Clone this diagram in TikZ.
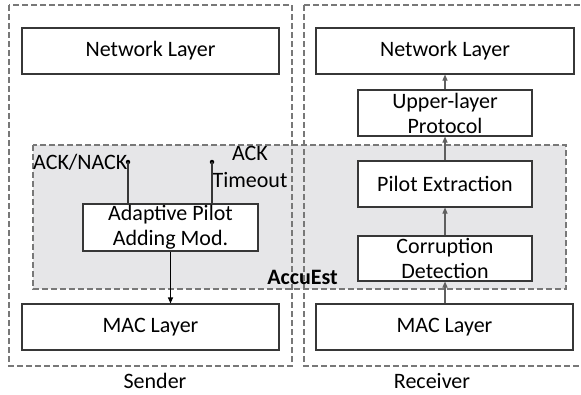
\documentclass[tikz,border=0pt]{standalone}
\usepackage{fontspec}
\setmainfont{Carlito}
\usetikzlibrary{arrows.meta}
\definecolor{dashgray}{RGB}{120,120,120}
\definecolor{accufill}{RGB}{230,230,232}
\definecolor{boxline}{RGB}{55,55,55}
\definecolor{arrgray}{RGB}{95,95,95}
\begin{document}
\begin{tikzpicture}[x=1pt,y=-1pt,
  txt/.style={font=\fontsize{22}{25}\selectfont},
  layerbox/.style={draw=boxline, line width=1.1pt, fill=white, txt, align=center, inner sep=0pt},
  group/.style={draw=dashgray, dash pattern=on 6pt off 3pt, line width=1.1pt},
  arr/.style={-{Triangle[length=6pt,width=5pt]}, line width=1.1pt},
  dotc/.style={circle, fill=black, inner sep=0pt, minimum size=4.5pt}
]
\useasboundingbox (0,0) rectangle (581,394);
% AccuEst region
\fill[accufill] (33,145) rectangle (566,289);
\draw[group] (33,145) rectangle (566,289);
% Sender / Receiver groups
\draw[group] (9,5) rectangle (292,366);
\draw[group] (304,5) -- (580,5);
\draw[group] (304,5) -- (304,366) -- (580,366);
\node[font=\fontsize{22}{25}\bfseries\selectfont, anchor=east, inner sep=0pt] (accu) at (338,277) {AccuEst};
% sender nodes
\node[layerbox, minimum width=257pt, minimum height=46pt] (netS) at (150.5,51) {Network Layer};
\node[layerbox, minimum width=257pt, minimum height=46pt] (macS) at (150.5,327) {MAC Layer};
\node[layerbox, minimum width=175pt, minimum height=47pt] (apa) at (170.5,227.5) {Adaptive Pilot\\Adding Mod.};
\node[txt, inner sep=0pt, anchor=west] (acknack) at (33,162) {ACK/NACK};
\node[txt, inner sep=0pt, align=center, font=\fontsize{22}{27}\selectfont] (ackto) at (250,166.5) {ACK\\Timeout};
\node[dotc] (d1) at (128,162) {};
\node[dotc] (d2) at (212,162) {};
\draw[boxline, line width=1.1pt] (d1.center) -- (d1.center |- apa.north);
\draw[boxline, line width=1.1pt] (d2.center) -- (d2.center |- apa.north);
\draw[arr, black] (apa.south) -- (apa.south |- macS.north);
% receiver nodes
\node[layerbox, minimum width=258pt, minimum height=46pt] (netR) at (445,51) {Network Layer};
\node[layerbox, minimum width=174pt, minimum height=46pt] (upl) at (445,113) {Upper-layer\\Protocol};
\node[layerbox, minimum width=174pt, minimum height=46pt] (pe) at (445,184) {Pilot Extraction};
\node[layerbox, minimum width=174pt, minimum height=45pt] (cd) at (445,258.5) {Corruption\\Detection};
\node[layerbox, minimum width=257pt, minimum height=46pt] (macR) at (444.5,327) {MAC Layer};
\draw[arr, arrgray] (macR.north -| cd.south) -- (cd.south);
\draw[arr, arrgray] (cd.north) -- (pe.south);
\draw[arr, arrgray] (pe.north) -- (upl.south);
\draw[arr, arrgray] (upl.north) -- (upl.north |- netR.south);
% labels
\node[txt, inner sep=0pt] (sender) at (155,381) {Sender};
\node[txt, inner sep=0pt] (receiver) at (432,381) {Receiver};
\end{tikzpicture}
\end{document}
